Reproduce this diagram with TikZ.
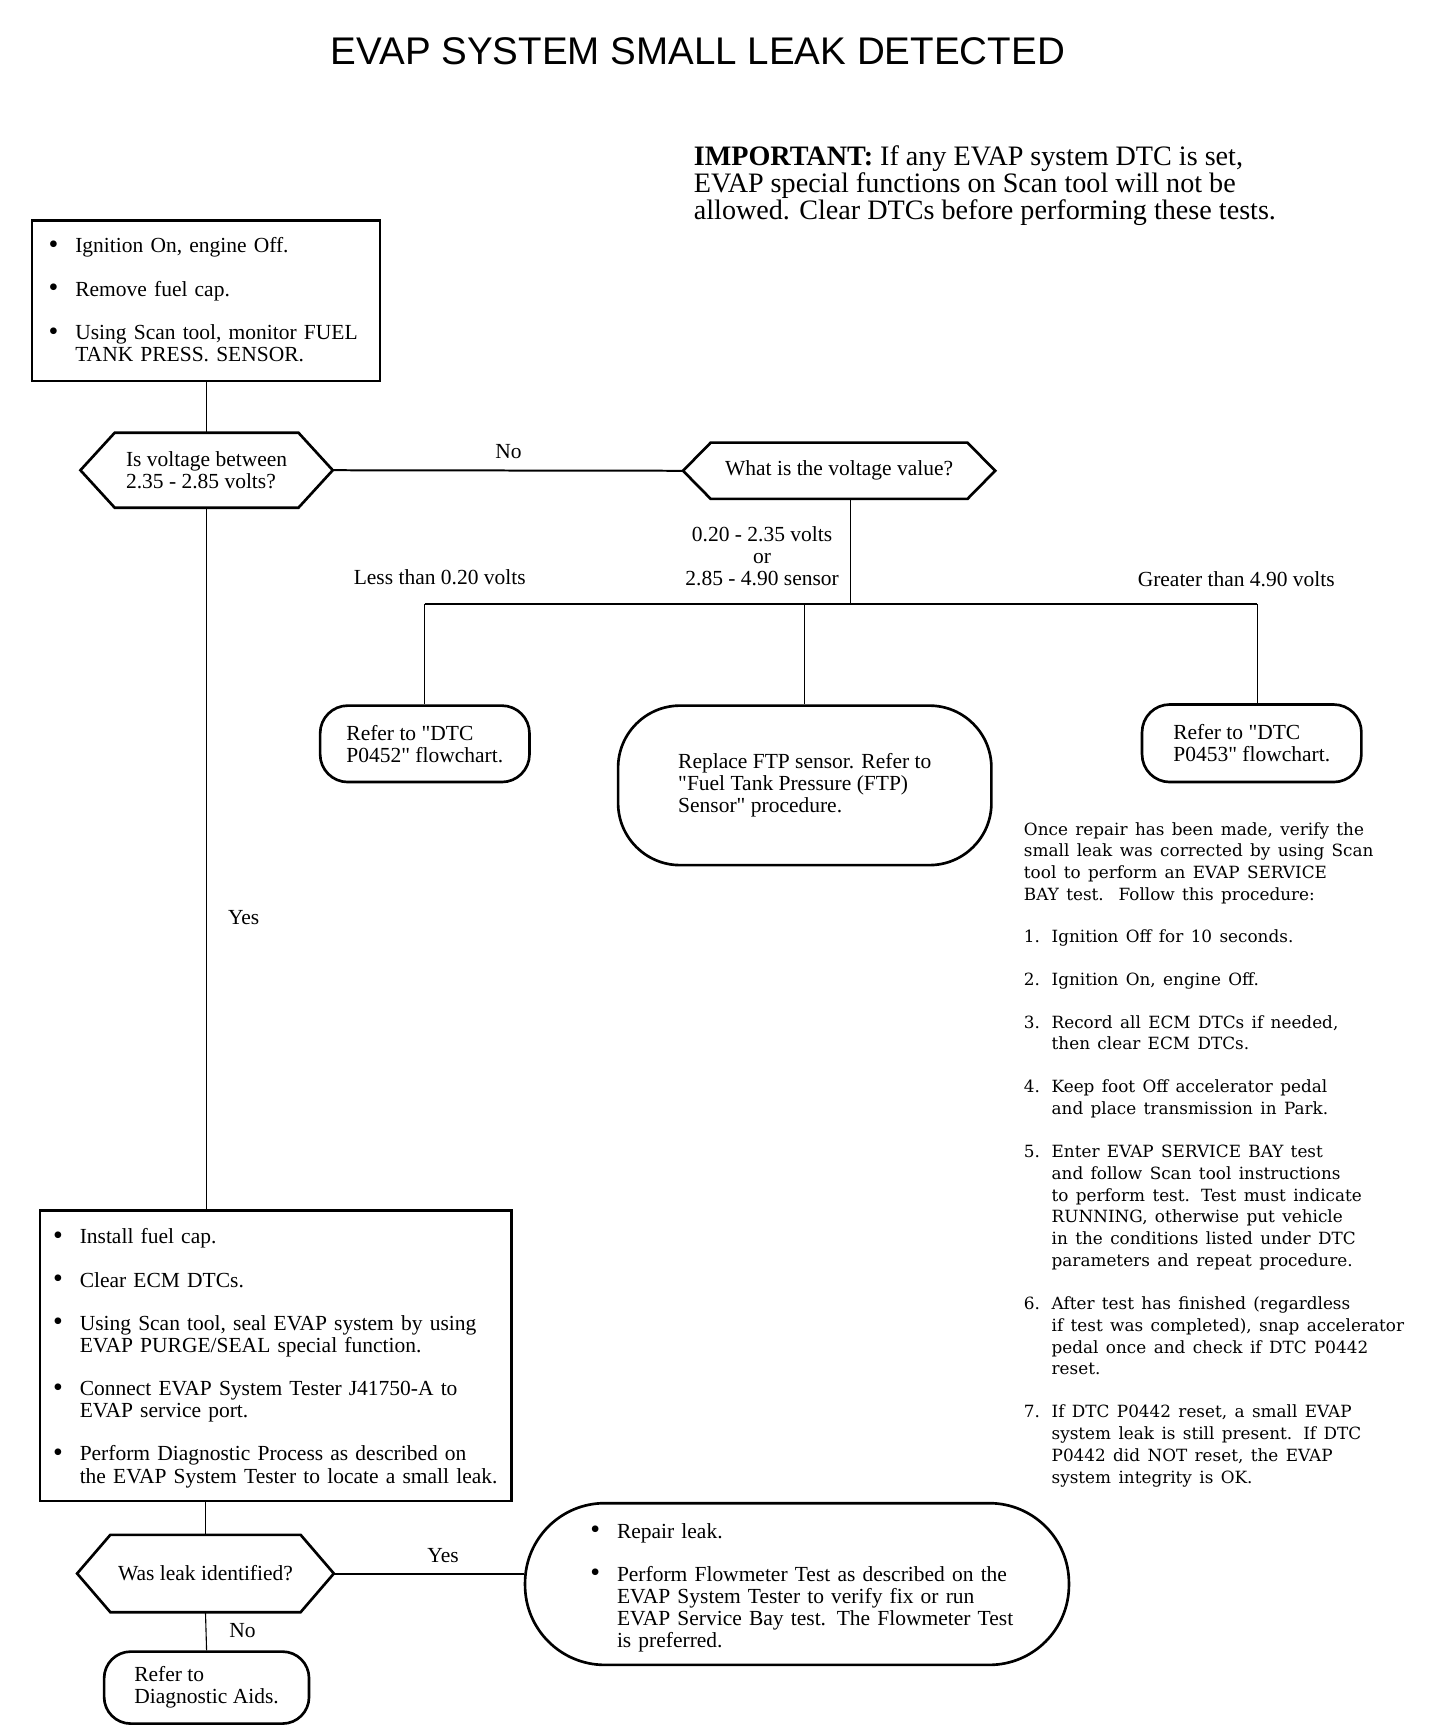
\documentclass[tikz,border=0pt]{standalone}
\usepackage{fontspec}
\setmainfont{Liberation Serif}
\newfontfamily\titlefont{Liberation Sans}
\newfontfamily\notefont{DejaVu Serif}
\newfontfamily\qfont{Liberation Serif}[Ligatures=TeXOff]
\usetikzlibrary{calc}
\newcommand\bodyfont{\fontsize{9.7pt}{10pt}\selectfont}
\newcommand\qq{{\qfont"}}
\newcommand\bul[1]{\par\hangindent=12pt\hangafter=1\noindent\makebox[12pt][l]{\raisebox{-0.3pt}{\scalebox{1.3}{\textbullet}}}#1\par}
\newcommand\numitem[2]{\par\hangindent=12.5pt\hangafter=1\noindent\makebox[12.5pt][l]{#1}#2\par}
\newcommand\hexdraw[2]{\draw[boxline] (#1.west) -- ($(#1.north west)+(#2,0)$) -- ($(#1.north east)+(-#2,0)$) -- (#1.east) -- ($(#1.south east)+(-#2,0)$) -- ($(#1.south west)+(#2,0)$) -- cycle;}
\tikzset{
  boxline/.style={line width=1.2pt, line join=miter},
  sqbox/.style={draw, boxline, align=left, inner ysep=0pt, font=\bodyfont},
  rbox/.style={draw, boxline, align=left, inner sep=0pt, font=\bodyfont},
  hexn/.style={inner sep=0pt, align=left, font=\bodyfont},
  thinline/.style={line width=0.5pt},
  medline/.style={line width=0.9pt},
  lab/.style={inner sep=0pt, font=\bodyfont}
}
\begin{document}
\begin{tikzpicture}[x=0.5pt,y=-0.5pt]
\useasboundingbox (0,0) rectangle (1300,1567.2);
% title and note
\node[inner sep=0pt, font={\titlefont\fontsize{17.4pt}{20pt}\selectfont}] (title) at (630,46) {EVAP SYSTEM SMALL LEAK DETECTED};
\node[anchor=north west, inner sep=0pt, align=left, font={\fontsize{12.7pt}{12.3pt}\selectfont}] (imp) at (626,131) {\textbf{IMPORTANT:} If any EVAP system DTC is set,\\EVAP special functions on Scan tool will not be\\allowed. Clear DTCs before performing these tests.};
% boxes
\node[sqbox, minimum width=157pt, minimum height=72.5pt, text width=142pt, inner xsep=7.5pt] (box1) at (186,271.5)
 {\bul{Ignition On, engine Off.}\vspace{9.5pt}\bul{Remove fuel cap.}\vspace{9.5pt}\bul{Using Scan tool, monitor FUEL\newline TANK PRESS. SENSOR.}\vskip4pt\hrule height0pt};
\node[hexn, minimum width=113.5pt, minimum height=33.5pt] (d1) at (186.5,424.5) {Is voltage between\\2.35 - 2.85 volts?};
\hexdraw{d1}{31}
\node[hexn, minimum width=140.5pt, minimum height=25pt, align=center] (d2) at (757.5,425) {What is the voltage value?};
\hexdraw{d2}{25}
\node[rbox, rounded corners=12.5pt, minimum width=94.5pt, minimum height=34.5pt] (L) at (383.5,671.5) {Refer to \qq DTC\\P0452\qq\ flowchart.};
\node[rbox, rounded corners=28pt, minimum width=168.5pt, minimum height=72pt] (M) at (726.5,709) {Replace FTP sensor. Refer to\\\qq Fuel Tank Pressure (FTP)\\Sensor\qq\ procedure.};
\node[rbox, rounded corners=12.5pt, minimum width=99pt, minimum height=35pt] (R) at (1130,671) {Refer to \qq DTC\\P0453\qq\ flowchart.};
\node[sqbox, minimum width=213pt, minimum height=131pt, text width=201pt, inner xsep=6pt] (box2) at (249,1224)
 {\bul{Install fuel cap.}\vspace{9.5pt}\bul{Clear ECM DTCs.}\vspace{9.5pt}\bul{Using Scan tool, seal EVAP system by using\newline EVAP PURGE/SEAL special function.}\vspace{9.5pt}\bul{Connect EVAP System Tester J41750-A to\newline EVAP service port.}\vspace{9.5pt}\bul{Perform Diagnostic Process as described on\newline the EVAP System Tester to locate a small leak.}\vskip1pt\hrule height0pt};
\node[hexn, minimum width=115.5pt, minimum height=34.5pt, align=center] (d3) at (185.5,1420.5) {Was leak identified?};
\hexdraw{d3}{30}
\node[rbox, rounded corners=36pt, minimum width=245.5pt, minimum height=73pt, text width=186.5pt, inner xsep=29.5pt] (B) at (719.5,1430)
 {\bul{Repair leak.}\vspace{9.5pt}\bul{\mbox{Perform Flowmeter Test as described on the}\newline \mbox{EVAP System Tester to verify fix or run}\newline \mbox{EVAP Service Bay test. The Flowmeter Test}\newline is preferred.}};
\node[rbox, rounded corners=12pt, minimum width=92.5pt, minimum height=32.5pt] (D) at (186.5,1523.5) {Refer to\\Diagnostic Aids.};
% right note
\node[anchor=north west, inner sep=0pt, text width=190pt, align=left] (note) at (924,742)
 {\notefont\fontsize{7.6pt}{9.85pt}\selectfont
 Once repair has been made, verify the\newline small leak was corrected by using Scan\newline tool to perform an EVAP SERVICE\newline BAY test.\ \ Follow this procedure:\par\vspace{9pt}
 \numitem{1.}{Ignition Off for 10 seconds.}\vspace{9.5pt}
 \numitem{2.}{Ignition On, engine Off.}\vspace{9.5pt}
 \numitem{3.}{Record all ECM DTCs if needed,\newline then clear ECM DTCs.}\vspace{9.5pt}
 \numitem{4.}{Keep foot Off accelerator pedal\newline and place transmission in Park.}\vspace{9.5pt}
 \numitem{5.}{Enter EVAP SERVICE BAY test\newline and follow Scan tool instructions\newline to perform test. Test must indicate\newline RUNNING, otherwise put vehicle\newline in the conditions listed under DTC\newline parameters and repeat procedure.}\vspace{9.5pt}
 \numitem{6.}{After test has finished (regardless\newline if test was completed), snap accelerator\newline pedal once and check if DTC P0442\newline reset.}\vspace{9.5pt}
 \numitem{7.}{If DTC P0442 reset, a small EVAP\newline system leak is still present. If DTC\newline P0442 did NOT reset, the EVAP\newline system integrity is OK.}};
% connectors
\coordinate (bus) at (768,545);
\coordinate (bL) at (383.5,545);
\coordinate (bR) at (1135,545);
\draw[thinline] (box1.south -| d1.north) -- (d1.north);
\draw[medline] (d1.east) -- (d2.west);
\draw[thinline] (d2.south -| bus) -- (bus);
\draw[medline] (bL) -- (bR);
\draw[thinline] (bL) -- (L.north);
\draw[thinline] (M.north |- bL) -- (M.north);
\draw[thinline] (bR) -- (bR |- R.north);
\draw[thinline] (d1.south) -- (d1.south |- box2.north);
\draw[thinline] (box2.south -| d3.north) -- (d3.north);
\draw[medline] (d3.east) -- (d3.east -| B.west);
\draw[thinline] (d3.south) -- (D.north);
% labels
\node[lab] (lno1) at (459,408) {No};
\node[lab, align=center] (lmid) at (688,502) {0.20 - 2.35 volts\\or\\2.85 - 4.90 sensor};
\node[lab] (lless) at (397,521) {Less than 0.20 volts};
\node[lab] (lgreat) at (1116,523) {Greater than 4.90 volts};
\node[lab] (lyes1) at (220,828) {Yes};
\node[lab] (lyes2) at (400,1404) {Yes};
\node[lab] (lno2) at (219,1472) {No};
\end{tikzpicture}
\end{document}
